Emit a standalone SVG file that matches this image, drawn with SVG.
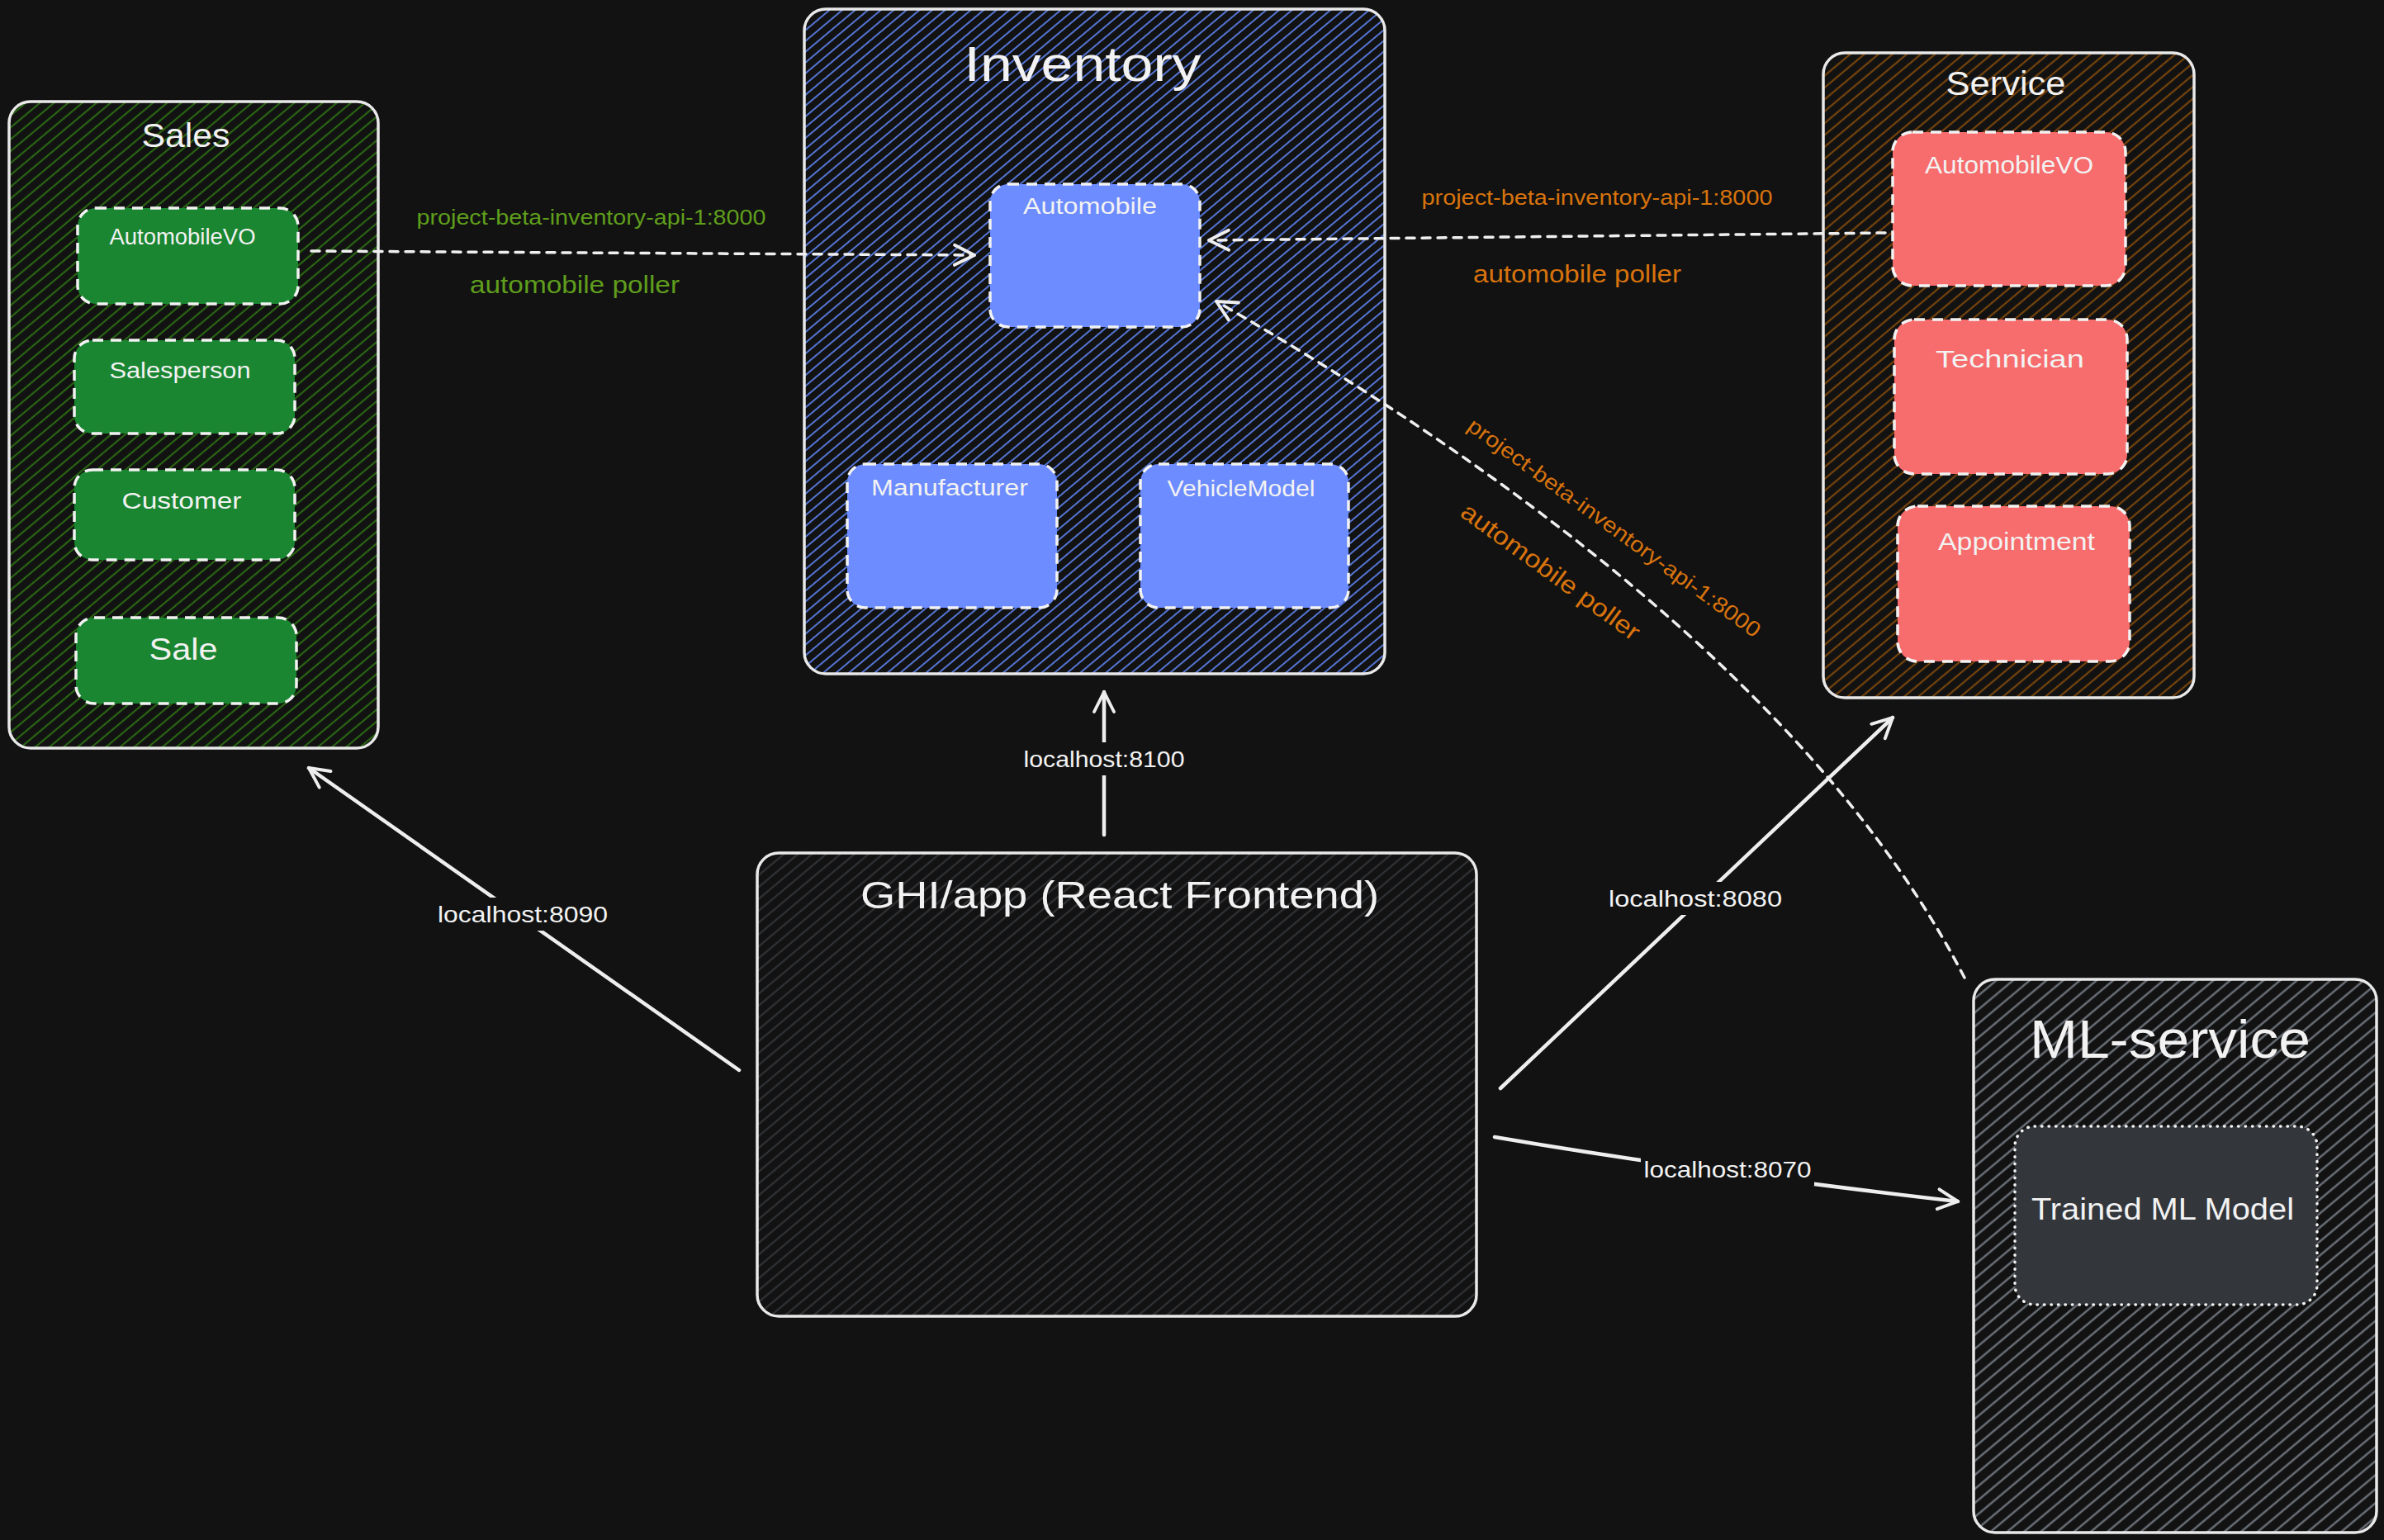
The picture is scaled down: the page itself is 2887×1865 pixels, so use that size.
<svg xmlns="http://www.w3.org/2000/svg" width="2887" height="1865" viewBox="0 0 2887 1865">
<style>
.frame{stroke:#e9e9e9;stroke-width:3.5}
.child{stroke:#f2f2f2;stroke-width:3.5;stroke-dasharray:13 9}
.t{font-family:"Liberation Sans",Arial,sans-serif;fill:#f2f2f2;text-anchor:middle;dominant-baseline:central}
.green{fill:#5f9e1c}
.orange{fill:#d8730d}
.dash{fill:none;stroke:#efefef;stroke-width:3.5;stroke-dasharray:10 9;stroke-linecap:round}
.solid{fill:none;stroke:#eeeeee;stroke-width:4.5;stroke-linecap:round}
.lblbg{fill:#121212}
</style>
<defs>
<pattern id="hGreen" width="11" height="11" patternUnits="userSpaceOnUse" patternTransform="rotate(50)"><line x1="5.5" y1="0" x2="5.5" y2="11" stroke="#2f7d13" stroke-width="1.7"/></pattern>
<pattern id="hBlue" width="10" height="10" patternUnits="userSpaceOnUse" patternTransform="rotate(50)"><line x1="5" y1="0" x2="5" y2="10" stroke="#5b7fe8" stroke-width="1.8"/></pattern>
<pattern id="hOrange" width="11" height="11" patternUnits="userSpaceOnUse" patternTransform="rotate(50)"><line x1="5.5" y1="0" x2="5.5" y2="11" stroke="#8c4f0b" stroke-width="1.8"/></pattern>
<pattern id="hGrey" width="11" height="11" patternUnits="userSpaceOnUse" patternTransform="rotate(50)"><line x1="5.5" y1="0" x2="5.5" y2="11" stroke="#36393e" stroke-width="1.8"/></pattern>
<pattern id="hLight" width="13" height="13" patternUnits="userSpaceOnUse" patternTransform="rotate(50)"><line x1="6.5" y1="0" x2="6.5" y2="13" stroke="#70777e" stroke-width="2.3"/></pattern>
<marker id="arr" viewBox="0 0 20 20" refX="18" refY="10" markerWidth="30" markerHeight="30" markerUnits="userSpaceOnUse" orient="auto"><path d="M2,2 L18,10 L2,18" fill="none" stroke="#eeeeee" stroke-width="2.6" stroke-linecap="round" stroke-linejoin="round"/></marker>
</defs>
<rect width="2887" height="1865" fill="#121212"/>

<g id="sales">
<rect class="frame" x="11" y="123" width="447" height="783" rx="26" fill="url(#hGreen)"/>
<text class="t" x="225" y="164" font-size="40" textLength="107" lengthAdjust="spacingAndGlyphs">Sales</text>
</g>
<g id="sales-automobilevo">
<rect class="child" x="94" y="252" width="267" height="116" rx="22" fill="#1a8631"/>
<text class="t" x="221" y="287" font-size="27" textLength="177" lengthAdjust="spacingAndGlyphs">AutomobileVO</text>
</g>
<g id="salesperson">
<rect class="child" x="90" y="412" width="267" height="113" rx="22" fill="#1a8631"/>
<text class="t" x="218" y="449" font-size="27" textLength="171" lengthAdjust="spacingAndGlyphs">Salesperson</text>
</g>
<g id="customer">
<rect class="child" x="90" y="569" width="267" height="109" rx="22" fill="#1a8631"/>
<text class="t" x="220" y="606" font-size="28" textLength="145" lengthAdjust="spacingAndGlyphs">Customer</text>
</g>
<g id="sale">
<rect class="child" x="92" y="748" width="267" height="104" rx="22" fill="#1a8631"/>
<text class="t" x="222" y="786" font-size="36" textLength="83" lengthAdjust="spacingAndGlyphs">Sale</text>
</g>

<g id="inventory">
<rect class="frame" x="974" y="11" width="703" height="805" rx="26" fill="url(#hBlue)"/>
<text class="t" x="1311" y="77" font-size="60" textLength="287" lengthAdjust="spacingAndGlyphs">Inventory</text>
</g>
<g id="automobile">
<rect class="child" x="1199" y="223" width="254" height="173" rx="22" fill="#6c8cff"/>
<text class="t" x="1320" y="250" font-size="27" textLength="162" lengthAdjust="spacingAndGlyphs">Automobile</text>
</g>
<g id="manufacturer">
<rect class="child" x="1026" y="562" width="254" height="174" rx="22" fill="#6c8cff"/>
<text class="t" x="1150" y="591" font-size="27" textLength="190" lengthAdjust="spacingAndGlyphs">Manufacturer</text>
</g>
<g id="vehiclemodel">
<rect class="child" x="1381" y="562" width="252" height="174" rx="22" fill="#6c8cff"/>
<text class="t" x="1503" y="591" font-size="28" textLength="179" lengthAdjust="spacingAndGlyphs">VehicleModel</text>
</g>

<g id="service">
<rect class="frame" x="2208" y="64" width="449" height="781" rx="26" fill="url(#hOrange)"/>
<text class="t" x="2429" y="101" font-size="40" textLength="145" lengthAdjust="spacingAndGlyphs">Service</text>
</g>
<g id="service-automobilevo">
<rect class="child" x="2292" y="160" width="282" height="186" rx="24" fill="#f76c6c"/>
<text class="t" x="2433" y="199" font-size="30" textLength="204" lengthAdjust="spacingAndGlyphs">AutomobileVO</text>
</g>
<g id="technician">
<rect class="child" x="2294" y="387" width="282" height="187" rx="24" fill="#f76c6c"/>
<text class="t" x="2434" y="434" font-size="30" textLength="180" lengthAdjust="spacingAndGlyphs">Technician</text>
</g>
<g id="appointment">
<rect class="child" x="2298" y="613" width="281" height="188" rx="24" fill="#f76c6c"/>
<text class="t" x="2442" y="655" font-size="30" textLength="190" lengthAdjust="spacingAndGlyphs">Appointment</text>
</g>

<g id="frontend">
<rect class="frame" x="917" y="1033" width="871" height="561" rx="26" fill="url(#hGrey)"/>
<text class="t" x="1356" y="1084" font-size="46" textLength="628" lengthAdjust="spacingAndGlyphs">GHI/app (React Frontend)</text>
</g>

<g id="ml-service">
<rect class="frame" x="2390" y="1186" width="488" height="670" rx="26" fill="url(#hLight)" stroke-width="4.5"/>
<text class="t" x="2628" y="1259" font-size="64" textLength="340" lengthAdjust="spacingAndGlyphs">ML-service</text>
</g>
<g id="trained-model">
<rect x="2440" y="1364" width="366" height="216" rx="24" fill="#33373c" stroke="#f2f2f2" stroke-width="3.5" stroke-dasharray="0.5 8" stroke-linecap="round"/>
<text class="t" x="2619" y="1464" font-size="36" textLength="318" lengthAdjust="spacingAndGlyphs">Trained ML Model</text>
</g>

<g id="connectors">
<path class="dash" d="M377,304 L1180,309" marker-end="url(#arr)"/>
<path class="dash" d="M2283,282 L1464,291" marker-end="url(#arr)"/>
<path class="dash" d="M2379,1184 Q2160,760 1473,365" marker-end="url(#arr)"/>
<path class="solid" d="M895,1296 L374,930" marker-end="url(#arr)"/>
<path class="solid" d="M1337,1011 L1337,838" marker-end="url(#arr)"/>
<path class="solid" d="M1817,1318 L2292,869" marker-end="url(#arr)"/>
<path class="solid" d="M1810,1377 Q2050,1418 2371,1455" marker-end="url(#arr)"/>

<text class="t green" x="716" y="263" font-size="26" textLength="423" lengthAdjust="spacingAndGlyphs">project-beta-inventory-api-1:8000</text>
<text class="t green" x="696" y="344" font-size="30" textLength="254" lengthAdjust="spacingAndGlyphs">automobile poller</text>
<text class="t orange" x="1934" y="239" font-size="26" textLength="425" lengthAdjust="spacingAndGlyphs">project-beta-inventory-api-1:8000</text>
<text class="t orange" x="1910" y="331" font-size="30" textLength="252" lengthAdjust="spacingAndGlyphs">automobile poller</text>
<text class="t orange" x="1955" y="639" font-size="26" textLength="431" lengthAdjust="spacingAndGlyphs" transform="rotate(36 1955 639)">project-beta-inventory-api-1:8000</text>
<text class="t orange" x="1878" y="692" font-size="30" textLength="260" lengthAdjust="spacingAndGlyphs" transform="rotate(36 1878 692)">automobile poller</text>

<rect class="lblbg" x="526" y="1087" width="214" height="40"/>
<text class="t" x="633" y="1107" font-size="28" textLength="206" lengthAdjust="spacingAndGlyphs">localhost:8090</text>
<rect class="lblbg" x="1236" y="899" width="202" height="40"/>
<text class="t" x="1337" y="919" font-size="28" textLength="195" lengthAdjust="spacingAndGlyphs">localhost:8100</text>
<rect class="lblbg" x="1944" y="1068" width="218" height="40"/>
<text class="t" x="2053" y="1088" font-size="28" textLength="210" lengthAdjust="spacingAndGlyphs">localhost:8080</text>
<rect class="lblbg" x="1987" y="1396" width="210" height="40"/>
<text class="t" x="2092" y="1416" font-size="28" textLength="203" lengthAdjust="spacingAndGlyphs">localhost:8070</text>
</g>
</svg>
